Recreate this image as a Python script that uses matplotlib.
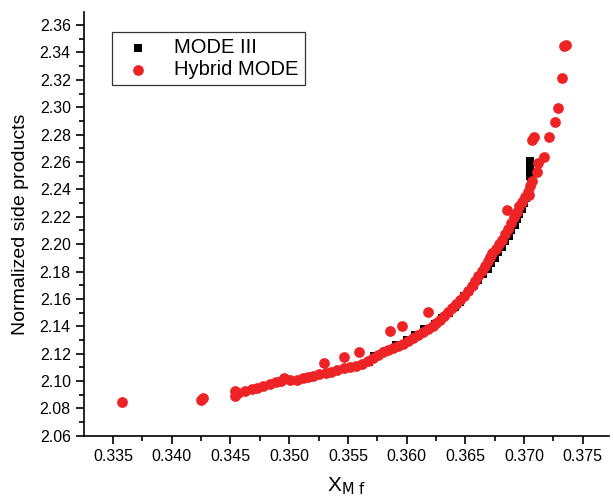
import matplotlib

matplotlib.use("Agg")
import matplotlib.pyplot as plt
from matplotlib.ticker import MultipleLocator, FormatStrFormatter

plt.rcParams["font.family"] = ["Liberation Sans", "DejaVu Sans"]

# MODE III (black squares)
mode3_x = [0.3568, 0.3572, 0.3582, 0.3591, 0.3600, 0.3607, 0.3615, 0.3624, 0.3630,
           0.3636, 0.3641, 0.3645, 0.3649, 0.3653, 0.3657, 0.3661, 0.3665, 0.3669,
           0.3672, 0.3675, 0.3678, 0.3681, 0.3684, 0.3687, 0.3689, 0.3692, 0.3694,
           0.3696, 0.3698, 0.3700, 0.3702, 0.3704, 0.3705, 0.3706, 0.3705, 0.3705,
           0.3705, 0.3705]
mode3_y = [2.114, 2.118, 2.122, 2.126, 2.130, 2.134, 2.138, 2.142, 2.146,
           2.150, 2.154, 2.158, 2.162, 2.166, 2.170, 2.174, 2.178, 2.182,
           2.186, 2.190, 2.194, 2.198, 2.202, 2.206, 2.210, 2.214, 2.218,
           2.222, 2.226, 2.230, 2.234, 2.238, 2.242, 2.246, 2.250, 2.254,
           2.258, 2.261]

# Hybrid MODE (red circles)
hybrid_x = [0.3358, 0.3425, 0.3427, 0.3454, 0.3454, 0.3456, 0.3462, 0.3468, 0.3473,
            0.3478, 0.3484, 0.3489, 0.3493, 0.3496, 0.3501, 0.3507, 0.3512, 0.3516,
            0.3520, 0.3525, 0.3530, 0.3531, 0.3536, 0.3541, 0.3547, 0.3547, 0.3552,
            0.3557, 0.3559, 0.3562, 0.3567, 0.3571, 0.3576, 0.3580, 0.3584, 0.3586,
            0.3588, 0.3593, 0.3596, 0.3597, 0.3601, 0.3605, 0.3610, 0.3614, 0.3618,
            0.3622, 0.3618, 0.3625, 0.3628, 0.3632, 0.3635, 0.3639, 0.3642, 0.3645,
            0.3649, 0.3652, 0.3656, 0.3658, 0.3661, 0.3664, 0.3667, 0.3669, 0.3671,
            0.3673, 0.3676, 0.3679, 0.3681, 0.3684, 0.3686, 0.3685, 0.3689, 0.3691,
            0.3694, 0.3696, 0.3698, 0.3701, 0.3703, 0.3704, 0.3705, 0.3707, 0.3707,
            0.3708, 0.3711, 0.3712, 0.3717, 0.3721, 0.3726, 0.3729, 0.3732, 0.3734,
            0.3736]
hybrid_y = [2.0848, 2.0863, 2.0877, 2.0892, 2.0928, 2.0914, 2.0928, 2.0943, 2.0950,
            2.0965, 2.0980, 2.0994, 2.1001, 2.1023, 2.1009, 2.1009, 2.1023, 2.1031,
            2.1038, 2.1053, 2.1133, 2.1060, 2.1067, 2.1082, 2.1177, 2.1096, 2.1104,
            2.1111, 2.1213, 2.1126, 2.1147, 2.1169, 2.1191, 2.1213, 2.1228, 2.1366,
            2.1242, 2.1257, 2.1403, 2.1272, 2.1293, 2.1315, 2.1337, 2.1359, 2.1381,
            2.1403, 2.1505, 2.1425, 2.1447, 2.1476, 2.1505, 2.1534, 2.1564, 2.1593,
            2.1622, 2.1658, 2.1695, 2.1731, 2.1768, 2.1804, 2.1841, 2.1877, 2.1907,
            2.1936, 2.1965, 2.2001, 2.2031, 2.2074, 2.2111, 2.2250, 2.2155, 2.2199,
            2.2235, 2.2279, 2.2308, 2.2345, 2.2381, 2.2360, 2.2425, 2.2461, 2.2761,
            2.2782, 2.2527, 2.2593, 2.2636, 2.2782, 2.2892, 2.2994, 2.3213, 2.3447,
            2.3454]

RED = "#EE2326"

fig = plt.figure(figsize=(6.13, 5.01), dpi=100)
ax = fig.add_axes([0.137, 0.130, 0.856, 0.846])

ax.scatter(mode3_x, mode3_y, marker="s", s=34, color="black", linewidths=0,
           label="MODE III", zorder=2)
ax.scatter(hybrid_x, hybrid_y, marker="o", s=60, color=RED, linewidths=0,
           label="Hybrid MODE", zorder=3)

ax.set_xlim(0.33253, 0.3772)
ax.set_ylim(2.06, 2.3695)
ax.xaxis.set_major_locator(MultipleLocator(0.005))
ax.xaxis.set_minor_locator(MultipleLocator(0.0025))
ax.yaxis.set_major_locator(MultipleLocator(0.02))
ax.yaxis.set_minor_locator(MultipleLocator(0.01))
ax.xaxis.set_major_formatter(FormatStrFormatter("%.3f"))
ax.yaxis.set_major_formatter(FormatStrFormatter("%.2f"))

for side in ("top", "right"):
    ax.spines[side].set_visible(False)
for side in ("left", "bottom"):
    ax.spines[side].set_linewidth(1.2)
ax.tick_params(axis="both", which="major", direction="out", length=6, width=1.2,
               labelsize=11.5)
ax.tick_params(axis="both", which="minor", direction="out", length=3.5, width=1.2)

ax.set_xlabel(r"X$_{\mathrm{M\ f}}$", fontsize=15, labelpad=8)
ax.set_ylabel("Normalized side products", fontsize=14, labelpad=8)

leg = ax.legend(loc="upper left", bbox_to_anchor=(0.1827, 0.936),
                bbox_transform=fig.transFigure, fontsize=14.5, frameon=True,
                fancybox=False, edgecolor="black", borderaxespad=0,
                handletextpad=0.8, markerscale=1.0, borderpad=0.3,
                labelspacing=0.15)
leg.get_frame().set_linewidth(0.9)

fig.savefig("out.png", dpi=100)
